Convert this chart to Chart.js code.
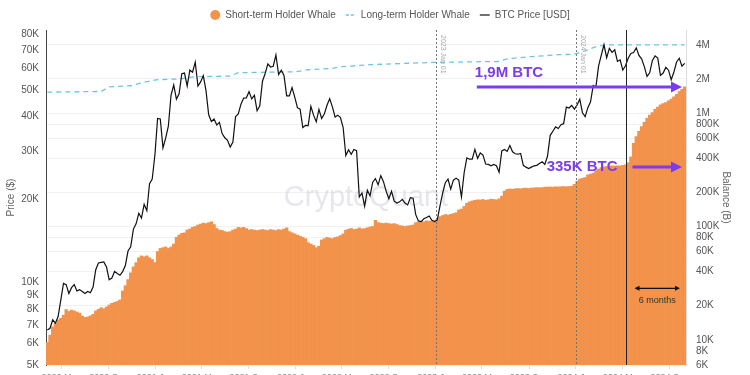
<!DOCTYPE html>
<html>
<head>
<meta charset="utf-8">
<script src="https://cdn.jsdelivr.net/npm/chart.js@4.4.1/dist/chart.umd.min.js"></script>
<style>
  html, body { margin: 0; padding: 0; background: #fff; overflow: hidden; }
  #wrap { width: 750px; height: 395px; position: relative; }
</style>
</head>
<body>
<div id="wrap"><canvas id="chart"></canvas></div>
<script>
// weekly samples, first week starts here
var startDate = '2020-03-26';

// BTC price [USD], one value per week
var btcPrice = [
  // 2020
  6700, 6800, 7300, 7100, 7500, 8600, 9900, 9800, 9100, 9550,
  9800, 9300, 9400, 9250, 9100, 9250, 9150, 9600, 11100, 11750,
  11800, 11850, 11350, 10200, 10350, 10950, 10750, 10600, 10930, 11500,
  12980, 13450, 15600, 16300, 17800, 17100, 19200, 18200, 22800, 23700,
  29000,
  // 2021
  39400, 39200, 30800, 33400, 36900, 47900, 52100, 46300, 48400,
  57300, 57600, 51700, 59000, 58000, 63100, 51700, 53500, 56400, 49700,
  40600, 38400, 39200, 37300, 38100, 34700, 33500, 32800, 31000, 32300,
  40000, 40900, 44400, 46700, 46800, 49300, 46400, 47800, 42000, 43800,
  53800, 57400, 62200, 60600, 61000, 67000, 56900, 59000, 56500, 47600,
  47600, 51000, 47100,
  // 2022
  43100, 42600, 36500, 37200, 37100, 43600, 40500, 38300, 42500, 39400,
  40900, 44000, 46500, 43400, 39900, 40500, 39700, 36500, 28900, 30300,
  29200, 30400, 30100, 20400, 21100, 18900, 21600, 20600, 23100, 23800,
  22600, 24400, 23200, 21400, 20100, 21400, 19700, 19400, 19600, 20000,
  19400, 19100, 20300, 20200, 17600, 16700, 16600, 17000, 17200, 17400,
  16800, 16600,
  // 2023
  16850, 18900, 21100, 23000, 23700, 21800, 23500, 23900, 23500, 20400,
  25000, 28300, 28000, 28000, 30400, 28200, 29500, 29000, 26900, 26800,
  26500, 26800, 26500, 25100, 30000, 30400, 29900, 31400, 29800, 29300,
  29200, 29400, 26600, 26200, 25900, 26200, 26500, 26600, 27000, 27400,
  26800, 28700, 34200, 35400, 36700, 36200, 37400, 37700, 43300, 43000,
  43900, 42600,
  // 2024
  44100, 46300, 41300, 40000, 43100, 45300, 51900, 51300, 61200, 66900,
  73000, 65500, 70800, 68500, 70000, 63500, 64300, 59100, 61200, 65200,
  67900, 68400, 71100, 66800, 64900, 60800, 56000, 57700, 64000, 66500,
  65300, 56500, 57600, 60400, 59000, 54500, 58100, 63200, 65200, 61000,
  62500
];

// Short-term holder whale balance (BTC), one value per week
var sthWhale = [
  9500, 11000, 13000, 14000, 15000, 15500, 16500, 18500, 17800, 18300,
  18000, 17600, 17200, 16200, 15800, 15900, 16300, 16800, 18000, 18600,
  19200, 18800, 19500, 20300, 21000, 21400, 21800, 22500, 27000, 30000,
  34000, 39000, 44000, 48000, 53000, 55000, 54000, 55000, 53000, 51000,
  48000, 60000, 64000, 65000, 66000, 64000, 66000, 70000, 80000, 84000,
  87000, 88000, 93000, 95000, 98000, 100000, 103000, 105000, 107000, 106000,
  108000, 110000, 104000, 96000, 93000, 92000, 90000, 89000, 90000, 93000,
  95000, 98000, 97000, 98000, 96000, 93000, 94000, 93000, 92000, 93000,
  94000, 93000, 92000, 94000, 93000, 92000, 94000, 93000, 95000, 97000,
  90000, 88000, 86000, 84000, 82000, 80000, 78000, 72000, 70000, 68000,
  65000, 67000, 76000, 78000, 80000, 79000, 78000, 80000, 81000, 83000,
  86000, 93000, 95000, 96000, 94000, 95000, 97000, 95000, 96000, 97000,
  99000, 100000, 113000, 108000, 107000, 106000, 107000, 106000, 105000, 106000,
  104000, 102000, 101000, 100000, 101000, 102000, 103000, 108000, 110000, 111000,
  110000, 112000, 111000, 112000, 113000, 115000, 122000, 125000, 127000, 126000,
  128000, 130000, 132000, 140000, 142000, 150000, 160000, 165000, 168000, 170000,
  172000, 171000, 173000, 170000, 172000, 174000, 173000, 172000, 175000, 185000,
  205000, 212000, 214000, 213000, 215000, 216000, 215000, 217000, 218000, 216000,
  218000, 219000, 220000, 219000, 220000, 222000, 222000, 223000, 222000, 224000,
  223000, 224000, 225000, 224000, 225000, 226000, 235000, 250000, 262000, 265000,
  270000, 285000, 290000, 295000, 310000, 320000, 330000, 335000, 338000, 340000,
  342000, 340000, 343000, 342000, 345000, 350000, 365000, 410000, 540000, 620000,
  690000, 760000, 830000, 900000, 960000, 1010000, 1080000, 1130000, 1180000, 1210000,
  1240000, 1280000, 1330000, 1390000, 1460000, 1550000, 1620000, 1700000
];

// Long-term holder whale balance (BTC), sparse readings
var lthDates = [
  '2020-03-26', '2020-08-13', '2020-09-03', '2020-10-29', '2020-11-26',
  '2021-01-07', '2021-03-04', '2021-04-15', '2021-07-15', '2021-08-05',
  '2021-12-30', '2022-02-03', '2022-04-07', '2022-04-28', '2022-07-14',
  '2022-09-15', '2022-12-29', '2023-06-15', '2023-07-06', '2023-09-07',
  '2023-11-16', '2023-12-28', '2024-01-25', '2024-02-22', '2024-03-21',
  '2024-10-10'
];
var lthWhale = [
  1530000, 1550000, 1700000, 1740000, 1850000,
  1970000, 2000000, 2090000, 2120000, 2270000,
  2310000, 2410000, 2480000, 2560000, 2670000,
  2720000, 2800000, 2850000, 3010000, 3140000,
  3270000, 3300000, 3540000, 3850000, 4000000,
  4000000
];

// axis ticks
var priceTicks = [5000, 6000, 7000, 8000, 9000, 10000, 20000, 30000, 40000, 50000, 60000, 70000, 80000];
var balanceTicks = [6000, 8000, 10000, 20000, 40000, 60000, 80000, 100000, 200000, 400000, 600000, 800000, 1000000, 2000000, 4000000];
var xTickDates = ['2020-05-01', '2020-09-01', '2021-01-01', '2021-05-01', '2021-09-01', '2022-01-01', '2022-05-01',
  '2022-09-01', '2023-01-01', '2023-05-01', '2023-09-01', '2024-01-01', '2024-05-01', '2024-09-01'];
var xTickLabels = ['2020 May', '2020 Sep', '2021 Jan', '2021 May', '2021 Sep', '2022 Jan', '2022 May',
  '2022 Sep', '2023 Jan', '2023 May', '2023 Sep', '2024 Jan', '2024 May', '2024 Sep'];

function weekOf(d) {
  return (Date.parse(d) - Date.parse(startDate)) / (7 * 864e5);
}

function fmt(v) {
  if (v >= 1e6) return (v / 1e6) + 'M';
  return (v / 1000) + 'K';
}

var PURPLE = '#7b3cf0';
var FONT = '"Liberation Sans", Arial, sans-serif';

function arrowHead(ctx, x, y, dir, len, half) {
  ctx.beginPath();
  ctx.moveTo(x, y);
  ctx.lineTo(x - dir * len, y - half);
  ctx.lineTo(x - dir * len, y + half);
  ctx.closePath();
  ctx.fill();
}

// watermark, date markers and the annotations
var extras = {
  id: 'extras',
  afterLayout: function(chart) {
    // legend sits a bit right of centre in the original
    chart.legend.left += 24;
    chart.legend.right += 24;
  },
  beforeDatasetsDraw: function(chart) {
    var ctx = chart.ctx, a = chart.chartArea;
    ctx.save();
    ctx.font = '29px ' + FONT;
    ctx.fillStyle = 'rgba(200,200,218,0.45)';
    ctx.textAlign = 'center';
    ctx.textBaseline = 'middle';
    ctx.fillText('CryptoQuant', (a.left + a.right) / 2, (a.top + a.bottom) / 2);
    ctx.restore();
  },
  afterDatasetsDraw: function(chart) {
    var ctx = chart.ctx, a = chart.chartArea;
    var xs = chart.scales.x, yl = chart.scales.y, yr = chart.scales.y1;

    // dashed year markers
    ['2023-01-01', '2024-01-01'].forEach(function(d) {
      var x = Math.round(xs.getPixelForValue(weekOf(d))) + 0.5;
      ctx.save();
      ctx.strokeStyle = '#777';
      ctx.lineWidth = 1;
      ctx.setLineDash([2, 2]);
      ctx.beginPath();
      ctx.moveTo(x, a.top);
      ctx.lineTo(x, a.bottom);
      ctx.stroke();
      ctx.translate(x + 3, a.top + 5);
      ctx.rotate(Math.PI / 2);
      ctx.font = '7px ' + FONT;
      ctx.fillStyle = '#aaa';
      ctx.textBaseline = 'bottom';
      var p = d.split('-');
      ctx.fillText(p[0] + ' Jan ' + p[2], 0, 0);
      ctx.restore();
    });

    // solid marker
    var xh = Math.round(xs.getPixelForValue(weekOf('2024-05-11'))) + 0.5;
    ctx.save();
    ctx.strokeStyle = '#222';
    ctx.lineWidth = 1;
    ctx.beginPath();
    ctx.moveTo(xh, a.top);
    ctx.lineTo(xh, a.bottom);
    ctx.stroke();
    ctx.restore();

    // purple arrows
    ctx.save();
    ctx.strokeStyle = PURPLE;
    ctx.fillStyle = PURPLE;
    ctx.lineWidth = 3;
    var y1 = yr.getPixelForValue(sthWhale[sthWhale.length - 1]);
    var x1 = xs.getPixelForValue(weekOf('2023-04-18'));
    var xe = a.right - 4;
    ctx.beginPath();
    ctx.moveTo(x1, y1);
    ctx.lineTo(xe - 8, y1);
    ctx.stroke();
    arrowHead(ctx, xe, y1, 1, 11, 5.5);
    ctx.font = 'bold 15px ' + FONT;
    ctx.textBaseline = 'middle';
    ctx.fillText('1,9M BTC', x1 - 2, y1 - 14);

    var y2 = yr.getPixelForValue(335000);
    ctx.beginPath();
    ctx.moveTo(xh + 6, y2);
    ctx.lineTo(xe - 8, y2);
    ctx.stroke();
    arrowHead(ctx, xe, y2, 1, 11, 5.5);
    ctx.textAlign = 'right';
    ctx.fillText('335K BTC', xh - 9, y2);
    ctx.restore();

    // 6 months span
    var y3 = yl.getPixelForValue(9500);
    var sa = xh + 8, sb = a.right - 6;
    ctx.save();
    ctx.strokeStyle = '#111';
    ctx.fillStyle = '#111';
    ctx.lineWidth = 1.2;
    ctx.beginPath();
    ctx.moveTo(sa + 3, y3);
    ctx.lineTo(sb - 3, y3);
    ctx.stroke();
    arrowHead(ctx, sb, y3, 1, 5, 2.5);
    arrowHead(ctx, sa, y3, -1, 5, 2.5);
    ctx.font = '9px ' + FONT;
    ctx.fillStyle = '#333';
    ctx.textAlign = 'center';
    ctx.textBaseline = 'middle';
    ctx.fillText('6 months', (sa + sb) / 2, y3 + 12);
    ctx.restore();
  }
};

Chart.defaults.font.family = FONT;
Chart.defaults.color = '#555';

var ctx = document.getElementById('chart').getContext('2d');
var chart = new Chart(ctx, {
  type: 'bar',
  data: {
    datasets: [{
      type: 'bar',
      label: 'Short-term Holder Whale',
      data: sthWhale.map(function(v, i) { return { x: i, y: v }; }),
      yAxisID: 'y1',
      backgroundColor: '#f2924b',
      borderWidth: 0,
      barPercentage: 1,
      categoryPercentage: 1,
      pointStyle: 'circle',
      order: 3
    }, {
      type: 'line',
      label: 'Long-term Holder Whale',
      data: lthDates.map(function(d, i) { return { x: weekOf(d), y: lthWhale[i] }; }),
      yAxisID: 'y1',
      borderColor: '#6cc6e2',
      borderWidth: 1.3,
      borderDash: [5, 4],
      pointRadius: 0,
      pointStyle: 'line',
      order: 2
    }, {
      type: 'line',
      label: 'BTC Price [USD]',
      data: btcPrice.map(function(v, i) { return { x: i, y: v }; }),
      yAxisID: 'y',
      borderColor: '#111',
      borderWidth: 1.2,
      pointRadius: 0,
      pointStyle: 'line',
      order: 1
    }]
  },
  options: {
    responsive: true,
    maintainAspectRatio: false,
    animation: false,
    layout: { padding: { left: 0, right: 18, top: 0, bottom: 7 } },
    plugins: {
      tooltip: { enabled: false },
      legend: {
        position: 'top',
        labels: {
          usePointStyle: true,
          boxHeight: 7,
          padding: 10,
          color: '#555',
          font: { size: 10 },
          sort: function(a, b) { return a.datasetIndex - b.datasetIndex; },
          generateLabels: function(c) {
            var items = Chart.defaults.plugins.legend.labels.generateLabels(c);
            items.forEach(function(it) {
              if (it.datasetIndex === 1) it.lineDash = [3, 2];
            });
            return items;
          }
        }
      }
    },
    scales: {
      x: {
        type: 'linear',
        offset: false,
        min: -0.5,
        max: sthWhale.length - 0.5,
        grid: { display: true, offset: false, drawOnChartArea: false, tickLength: 4, color: '#ddd' },
        border: { display: false },
        afterBuildTicks: function(s) {
          s.ticks = xTickDates.map(function(d) { return { value: weekOf(d) }; });
        },
        afterFit: function(s) { s.height = 23; },
        ticks: {
          font: { size: 9 },
          color: '#888',
          padding: 3,
          maxRotation: 0,
          autoSkip: false,
          callback: function(v, i) { return xTickLabels[i]; }
        }
      },
      y: {
        type: 'logarithmic',
        position: 'left',
        min: 5000,
        max: 82600,
        grid: { display: false, drawTicks: false },
        border: { display: true, color: '#444', width: 1 },
        afterBuildTicks: function(s) {
          s.ticks = priceTicks.map(function(v) { return { value: v }; });
        },
        afterFit: function(s) { s.width = 46; },
        ticks: {
          font: { size: 10 },
          color: '#555',
          padding: 7,
          autoSkip: false,
          callback: function(v) { return fmt(v); }
        },
        title: { display: true, text: 'Price ($)', font: { size: 10 }, color: '#666', padding: { top: 5, bottom: 0 } }
      },
      y1: {
        type: 'logarithmic',
        position: 'right',
        min: 6000,
        max: 5400000,
        grid: { color: '#f1f1f1', drawTicks: false },
        border: { display: true, color: '#ddd', width: 1 },
        afterBuildTicks: function(s) {
          s.ticks = balanceTicks.map(function(v) { return { value: v }; });
        },
        afterFit: function(s) { s.width = 46; },
        ticks: {
          font: { size: 10 },
          color: '#555',
          padding: 10,
          autoSkip: false,
          callback: function(v) { return fmt(v); }
        },
        title: { display: true, text: 'Balance (B)', font: { size: 10 }, color: '#666', padding: 0 }
      }
    }
  },
  plugins: [extras]
});
</script>
</body>
</html>
